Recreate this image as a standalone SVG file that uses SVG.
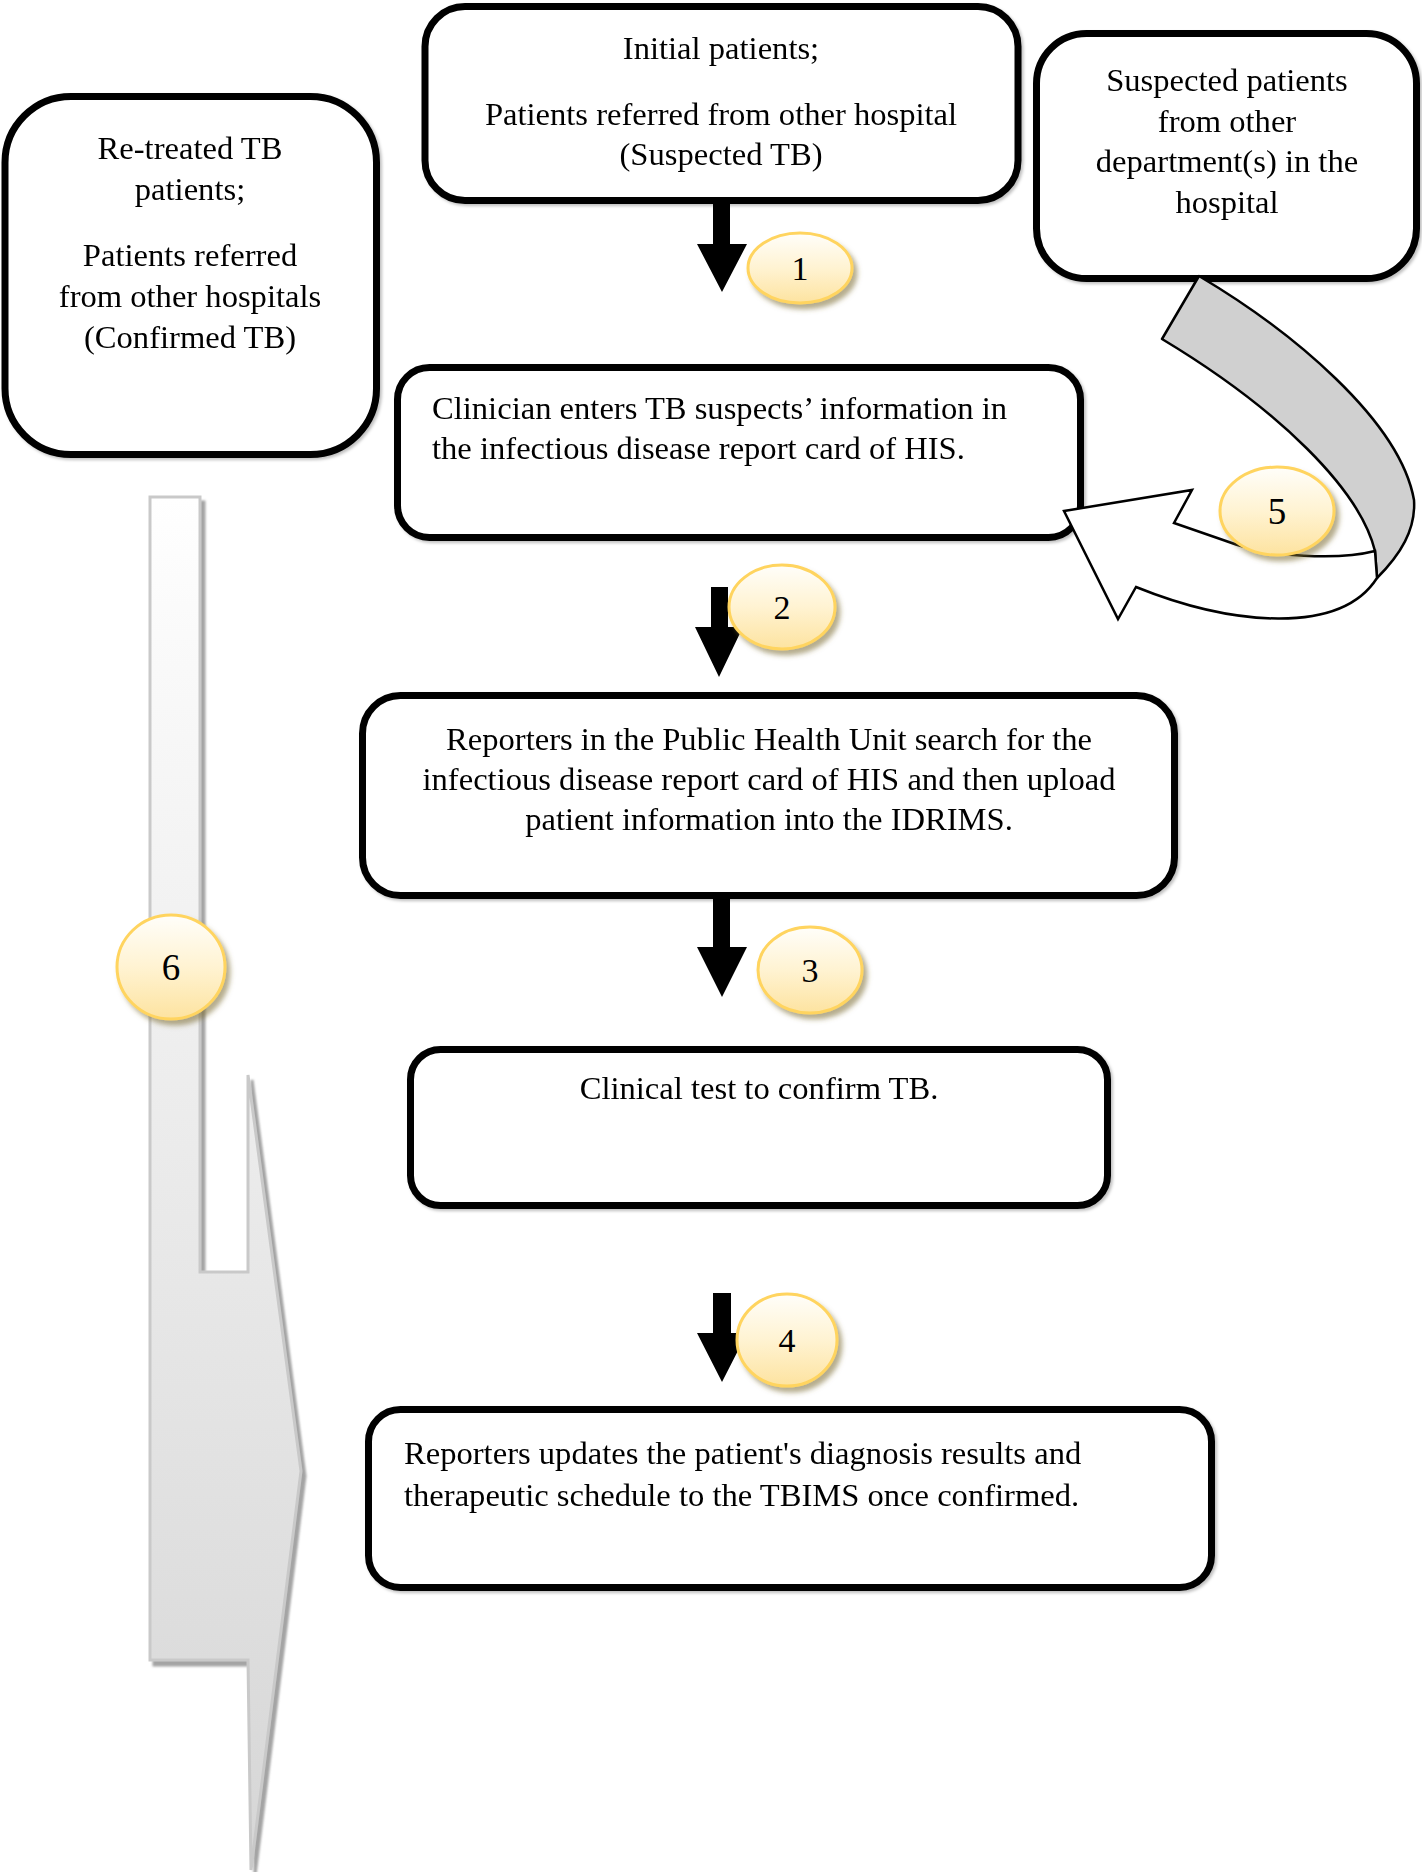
<svg xmlns="http://www.w3.org/2000/svg" width="1422" height="1872" viewBox="0 0 1422 1872">
<style>
.box{fill:#fff;stroke:#000;stroke-width:7}
.t{font-family:"Liberation Serif","Times New Roman",serif;font-size:32.6px;fill:#000}
.c{text-anchor:middle}
.num{font-family:"Liberation Serif","Times New Roman",serif;font-size:34px;fill:#000;text-anchor:middle}
.badge{fill:url(#gold);stroke:#ffd45e;stroke-width:3;filter:url(#bsh)}
.blk{fill:#000}
</style>
<defs>
<linearGradient id="gold" x1="0" y1="0" x2="0" y2="1">
<stop offset="0" stop-color="#fffefa"/>
<stop offset="0.5" stop-color="#fff3d2"/>
<stop offset="1" stop-color="#fde3a0"/>
</linearGradient>
<linearGradient id="gray6" gradientUnits="userSpaceOnUse" x1="0" y1="497" x2="0" y2="1870">
<stop offset="0" stop-color="#ffffff"/>
<stop offset="0.1" stop-color="#fafafa"/>
<stop offset="1" stop-color="#d6d6d6"/>
</linearGradient>
<filter id="bsh" x="-30%" y="-30%" width="160%" height="160%">
<feDropShadow dx="4" dy="5" stdDeviation="2.5" flood-color="#7a6a30" flood-opacity="0.55"/>
</filter>
<filter id="ash" x="-10%" y="-5%" width="120%" height="110%">
<feDropShadow dx="4" dy="5" stdDeviation="0.8" flood-color="#9a9a9a" flood-opacity="0.9"/>
</filter>
<filter id="boxsh" x="-5%" y="-5%" width="110%" height="110%">
<feDropShadow dx="2" dy="2" stdDeviation="1.5" flood-color="#000" flood-opacity="0.25"/>
</filter>
</defs>
<rect width="1422" height="1872" fill="#fff"/>

<g id="arrow6">
<path d="M150,497 L200,497 L200,1272 L248,1272 L248,1075 L301,1471 L251,1870 L248,1660 L150,1660 Z" fill="url(#gray6)" stroke="#c9c9c9" stroke-width="3" filter="url(#ash)"/>
</g>

<g id="nodes">
<g id="n-retreated" filter="url(#boxsh)">
<rect class="box" x="5" y="96.5" width="371.5" height="358" rx="66"/>
<text class="t c" x="190" y="159">Re-treated TB</text>
<text class="t c" x="190" y="200">patients;</text>
<text class="t c" x="190" y="266">Patients referred</text>
<text class="t c" x="190" y="307">from other hospitals</text>
<text class="t c" x="190" y="348">(Confirmed TB)</text>
</g>
<g id="n-initial" filter="url(#boxsh)">
<rect class="box" x="425" y="6.5" width="593" height="194" rx="40"/>
<text class="t c" x="721" y="59">Initial patients;</text>
<text class="t c" x="721" y="125">Patients referred from other hospital</text>
<text class="t c" x="721" y="165">(Suspected TB)</text>
</g>
<g id="n-suspected" filter="url(#boxsh)">
<rect class="box" x="1036.5" y="33.5" width="380" height="245" rx="50"/>
<text class="t c" x="1227" y="91">Suspected patients</text>
<text class="t c" x="1227" y="132">from other</text>
<text class="t c" x="1227" y="172">department(s) in the</text>
<text class="t c" x="1227" y="213">hospital</text>
</g>
<g id="n-clinician" filter="url(#boxsh)">
<rect class="box" x="397.5" y="367.5" width="683" height="170" rx="32"/>
<text class="t" x="432" y="419">Clinician enters TB suspects’ information in</text>
<text class="t" x="432" y="459">the infectious disease report card of HIS.</text>
</g>
<g id="n-reporters" filter="url(#boxsh)">
<rect class="box" x="362.5" y="695.5" width="812" height="200" rx="38"/>
<text class="t c" x="769" y="750">Reporters in the Public Health Unit search for the</text>
<text class="t c" x="769" y="790">infectious disease report card of HIS and then upload</text>
<text class="t c" x="769" y="830">patient information into the IDRIMS.</text>
</g>
<g id="n-clinical" filter="url(#boxsh)">
<rect class="box" x="410.5" y="1049.5" width="697" height="156" rx="30"/>
<text class="t c" x="759" y="1099">Clinical test to confirm TB.</text>
</g>
<g id="n-update" filter="url(#boxsh)">
<rect class="box" x="368.5" y="1409.5" width="843" height="178" rx="32"/>
<text class="t" x="404" y="1464">Reporters updates the patient's diagnosis results and</text>
<text class="t" x="404" y="1506">therapeutic schedule to the TBIMS once confirmed.</text>
</g>
</g>

<g id="connectors">
<polygon class="blk" points="713,201 730,201 730,244 747,244 722,292 697,244 713,244"/>
<polygon class="blk" points="711,587 728,587 728,627 743,627 719,677 695,627 711,627"/>
<polygon class="blk" points="713,899 730,899 730,947 747,947 722,997 697,947 713,947"/>
<polygon class="blk" points="713,1293 731,1293 731,1333 747,1333 722,1382 697,1333 713,1333"/>
<g id="arrow5">
<path d="M1199,276 C1290,330 1400,420 1414,500 C1416,530 1400,555 1377,578 L1375,551 C1360,490 1280,410 1162,339 Z" fill="#d0d0d0" stroke="#000" stroke-width="2.5" stroke-linejoin="round"/>
<path d="M1375,551 C1340,560 1270,558 1226,541 L1174,523 L1192,490 L1064,511 L1118,619 L1136,587 C1230,625 1340,636 1377,578 Z" fill="#fff" stroke="#000" stroke-width="2.5" stroke-linejoin="miter"/>
</g>
</g>

<g id="badges">
<g id="b1"><ellipse class="badge" cx="800" cy="268" rx="52" ry="35"/><text class="num" x="800" y="280">1</text></g>
<g id="b2"><ellipse class="badge" cx="782" cy="607" rx="53" ry="42"/><text class="num" x="782" y="619">2</text></g>
<g id="b3"><ellipse class="badge" cx="810" cy="970" rx="52" ry="43"/><text class="num" x="810" y="982">3</text></g>
<g id="b4"><ellipse class="badge" cx="787" cy="1340" rx="50" ry="46"/><text class="num" x="787" y="1352">4</text></g>
<g id="b5"><ellipse class="badge" cx="1277" cy="511" rx="57" ry="44"/><text class="num" x="1277" y="524" style="font-size:37px">5</text></g>
<g id="b6"><ellipse class="badge" cx="171" cy="967" rx="54" ry="52"/><text class="num" x="171" y="980" style="font-size:37px">6</text></g>
</g>
</svg>
